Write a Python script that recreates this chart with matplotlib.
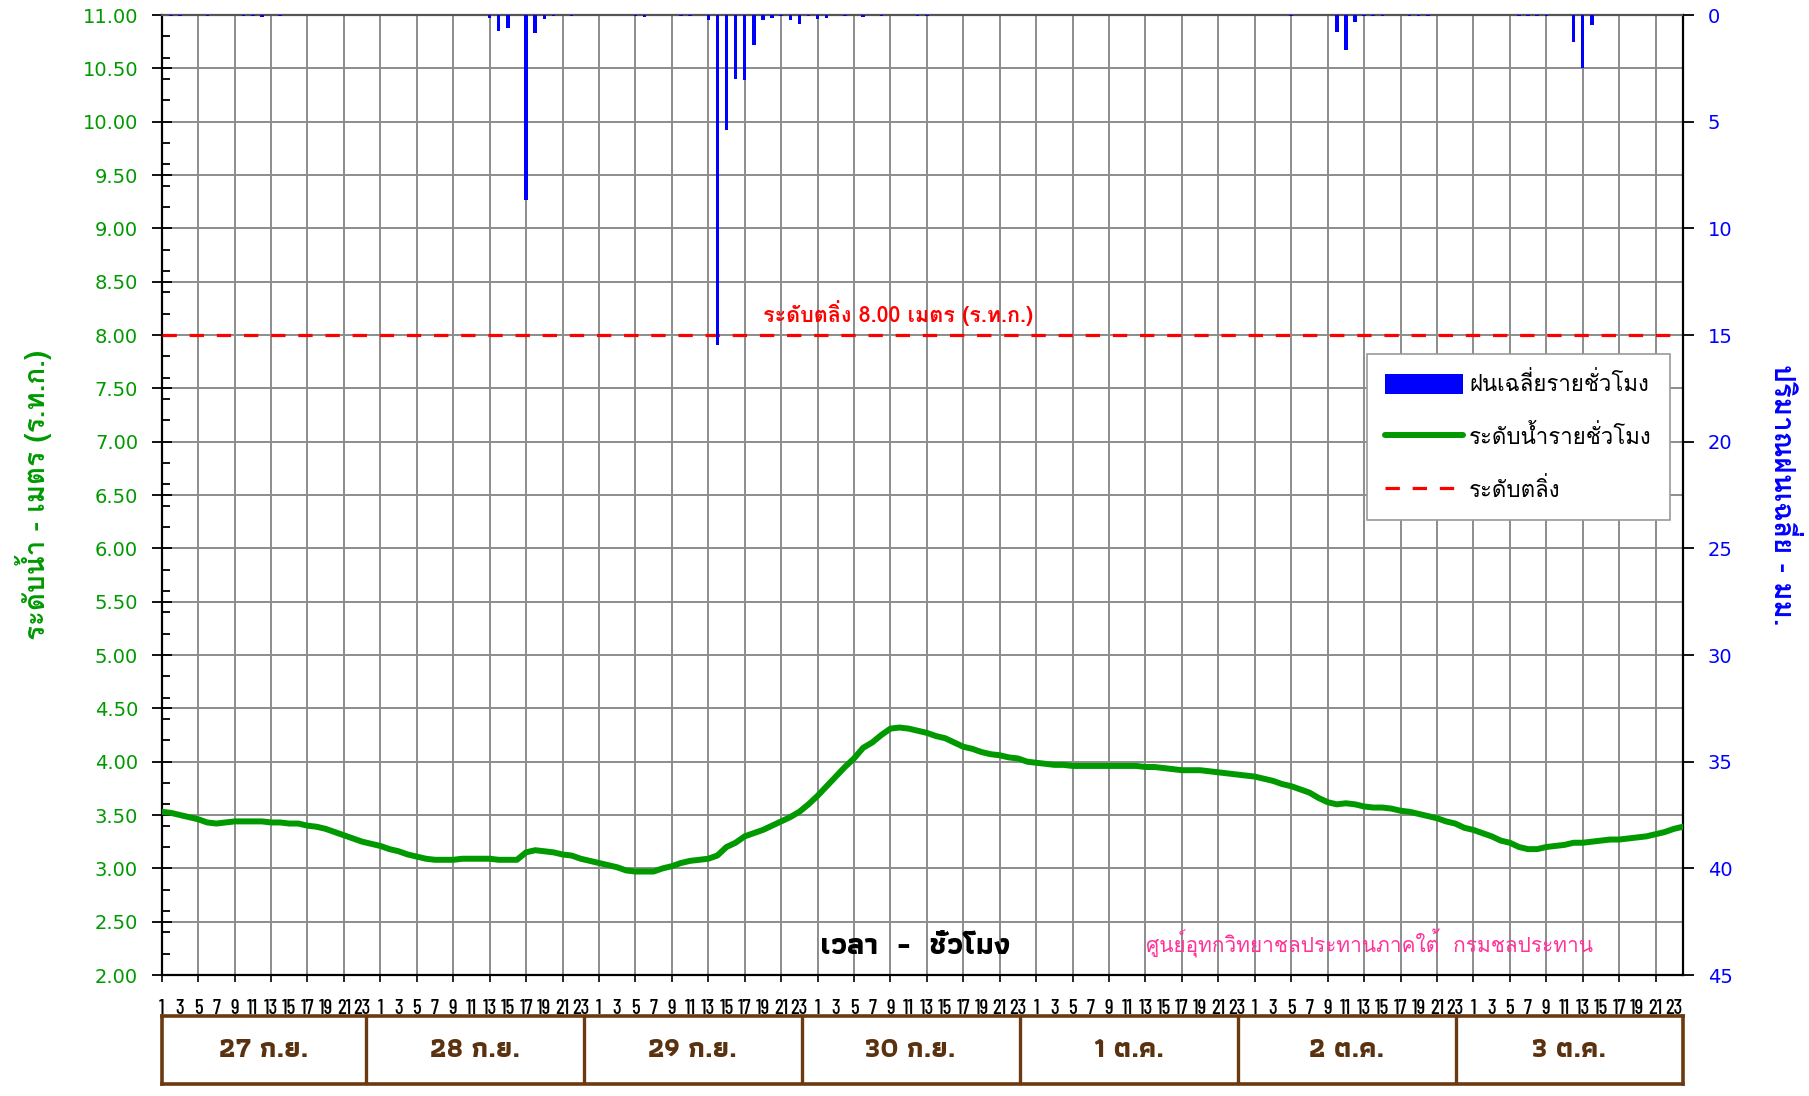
import numpy as np
import matplotlib
matplotlib.use('Agg')
import matplotlib.pyplot as plt
from matplotlib.patches import Patch
from matplotlib.lines import Line2D
from matplotlib.ticker import MultipleLocator, FormatStrFormatter

THAI = ['Loma', 'Noto Sans Thai', 'DejaVu Sans']
NARROW = ['Barlow Condensed', 'Archivo Narrow', 'DejaVu Sans']
NARROW_THAI = ['Athiti', 'Noto Sans Thai', 'DejaVu Sans']

days = ['27 ก.ย.', '28 ก.ย.', '29 ก.ย.', '30 ก.ย.', '1 ต.ค.', '2 ต.ค.', '3 ต.ค.']
bank_level = 8.00

# hourly water level (m), 27 Sep 01:00 -> 3 Oct 24:00
level = [
    3.53, 3.52, 3.50, 3.48, 3.46, 3.43, 3.42, 3.43, 3.44, 3.44, 3.44, 3.44,
    3.43, 3.43, 3.42, 3.42, 3.40, 3.39, 3.37, 3.34, 3.31, 3.28, 3.25, 3.23,
    3.21, 3.18, 3.16, 3.13, 3.11, 3.09, 3.08, 3.08, 3.08, 3.09, 3.09, 3.09,
    3.09, 3.08, 3.08, 3.08, 3.15, 3.17, 3.16, 3.15, 3.13, 3.12, 3.09, 3.07,
    3.05, 3.03, 3.01, 2.98, 2.97, 2.97, 2.97, 3.00, 3.02, 3.05, 3.07, 3.08,
    3.09, 3.12, 3.20, 3.24, 3.30, 3.33, 3.36, 3.40, 3.44, 3.48, 3.53, 3.60,
    3.68, 3.77, 3.86, 3.95, 4.03, 4.13, 4.18, 4.25, 4.31, 4.32, 4.31, 4.29,
    4.27, 4.24, 4.22, 4.18, 4.14, 4.12, 4.09, 4.07, 4.06, 4.04, 4.03, 4.00,
    3.99, 3.98, 3.97, 3.97, 3.96, 3.96, 3.96, 3.96, 3.96, 3.96, 3.96, 3.96,
    3.95, 3.95, 3.94, 3.93, 3.92, 3.92, 3.92, 3.91, 3.90, 3.89, 3.88, 3.87,
    3.86, 3.84, 3.82, 3.79, 3.77, 3.74, 3.71, 3.66, 3.62, 3.60, 3.61, 3.60,
    3.58, 3.57, 3.57, 3.56, 3.54, 3.53, 3.51, 3.49, 3.47, 3.44, 3.42, 3.38,
    3.36, 3.33, 3.30, 3.26, 3.24, 3.20, 3.18, 3.18, 3.20, 3.21, 3.22, 3.24,
    3.24, 3.25, 3.26, 3.27, 3.27, 3.28, 3.29, 3.30, 3.32, 3.34, 3.37, 3.39,
]

# hourly average rainfall (mm), non-zero hours only
rain_hour = [1, 2, 5, 9, 10, 11, 13, 36, 37, 38, 40, 41, 42, 43, 45,
             52, 53, 57, 58, 60, 61, 62, 63, 64, 65, 66, 67, 68, 69, 70,
             71, 72, 73, 75, 77, 79, 83, 84, 124, 129, 130, 131, 132, 133,
             134, 137, 138, 139, 149, 150, 151, 152, 155, 156, 157]
rain_mm = [0.05, 0.05, 0.03, 0.05, 0.05, 0.08, 0.05, 0.13, 0.75, 0.62, 8.68,
           0.84, 0.17, 0.06, 0.03,
           0.05, 0.08, 0.05, 0.05, 0.22, 15.47, 5.37, 3.0, 3.06, 1.40, 0.22,
           0.12, 0.05, 0.22, 0.40,
           0.05, 0.17, 0.12, 0.05, 0.10, 0.06, 0.05, 0.05, 0.05, 0.81, 1.62,
           0.31, 0.04, 0.04,
           0.04, 0.05, 0.05, 0.05, 0.04, 0.04, 0.05, 0.05, 1.28, 2.50, 0.48]

hours = np.arange(len(level))
hour_labels = [str(h % 24 + 1) for h in hours[::2]]

fig = plt.figure(figsize=(18.09, 10.96), dpi=100)
ax = fig.add_axes([0.0894, 0.1104, 0.8409, 0.8759])
ax2 = ax.twinx()

grid_kw = dict(color='#8c8c8c', linewidth=1.4)

# water level
ax.plot(hours, level, color='#009900', linewidth=4.3, solid_capstyle='round',
        zorder=4)
ax.axhline(bank_level, color='#ff0000', linewidth=2.3, dashes=(4.5, 4),
           zorder=3)
ax.text(80.8, bank_level + 0.08, 'ระดับตลิ่ง %.2f เมตร (ร.ท.ก.)' % bank_level,
        color='#ff0000', fontsize=15.5, fontweight='bold', family=THAI,
        ha='center', va='bottom', zorder=5)

ax.set_xlim(0, hours[-1])
ax.set_ylim(2, 11)
ax.yaxis.set_major_locator(MultipleLocator(0.5))
ax.yaxis.set_minor_locator(MultipleLocator(0.2))
ax.yaxis.set_major_formatter(FormatStrFormatter('%.2f'))
ax.tick_params(axis='y', which='major', direction='inout', length=14,
               width=1.3, labelsize=14, labelcolor='#009900', pad=10)
ax.tick_params(axis='y', which='minor', direction='in', length=6, width=1.3)
ax.grid(True, axis='y', which='major', **grid_kw)

# labels every 2 h, tick marks and grid every 4 h
ax.xaxis.remove_overlapping_locs = False
ax.set_xticks(hours[::2], hour_labels)
ax.set_xticks(hours[::4], minor=True)
ax.tick_params(axis='x', which='major', length=0, pad=17)
ax.tick_params(axis='x', which='minor', direction='out', length=5, width=1.2)
ax.grid(True, axis='x', which='minor', **grid_kw)
ax.set_axisbelow(True)

for side in ['left', 'bottom', 'right']:
    ax.spines[side].set_linewidth(1.6)
    ax.spines[side].set_color('black')
ax.spines['top'].set_color('#555555')
ax.spines['top'].set_linewidth(1.6)

ax.set_ylabel('ระดับน้ำ - เมตร (ร.ท.ก.)', family=THAI, fontsize=20,
              fontweight='bold', color='#009900', labelpad=22)

# rainfall, hanging from the top
ax2.bar(rain_hour, rain_mm, width=0.38, color='#0000ff', zorder=2)
ax2.set_ylim(45, 0)
ax2.yaxis.set_major_locator(MultipleLocator(5))
ax2.tick_params(axis='y', direction='out', length=8, width=1.3,
                labelsize=14, labelcolor='#0000ff', pad=10)
ax2.set_ylabel('ปริมาณฝนเฉลี่ย - มม.', family=THAI, fontsize=20,
               fontweight='bold', color='#0000ff', rotation=-90,
               labelpad=26, va='bottom')
for s in ax2.spines.values():
    s.set_visible(False)

ax.text(0.495, 0.03, 'เวลา  -  ชั่วโมง', transform=ax.transAxes, ha='center',
        va='center', family=NARROW_THAI, fontsize=22, fontweight='bold',
        color='black')
ax.text(0.794, 0.033, 'ศูนย์อุทกวิทยาชลประทานภาคใต้  กรมชลประทาน',
        transform=ax.transAxes, ha='center', va='center', family=THAI,
        fontsize=15, color='#ff3399')

handles = [Patch(facecolor='#0000ff', edgecolor='none'),
           Line2D([], [], color='#009900', linewidth=4.3,
                  solid_capstyle='round'),
           Line2D([], [], color='#ff0000', linewidth=2.3, dashes=(4.5, 4))]
labels = ['ฝนเฉลี่ยรายชั่วโมง', 'ระดับน้ำรายชั่วโมง', 'ระดับตลิ่ง']
leg = ax2.legend(handles, labels, loc='upper left',
                 bbox_to_anchor=(0.785, 0.658), prop={'family': THAI,
                                                     'size': 16},
                 frameon=True, fancybox=False, edgecolor='#9a9a9a',
                 framealpha=1, handlelength=3.5, handleheight=1.0,
                 labelspacing=1.3, borderpad=0.8, handletextpad=0.3)
leg.get_frame().set_linewidth(1.2)

# date boxes under the hour labels
axd = fig.add_axes([0.0894, 0.0110, 0.8409, 0.0620])
axd.set_xlim(0, hours[-1])
axd.set_ylim(0, 1)
axd.set_xticks([])
axd.set_yticks([])
for s in axd.spines.values():
    s.set_color('#6b3a10')
    s.set_linewidth(2.6)
edges = [0] + [24 * (i + 1) - 1.6 - 0.07 * i for i in range(len(days) - 1)]
edges = edges + [hours[-1]]
for i, d in enumerate(days):
    if i > 0:
        axd.axvline(edges[i], color='#6b3a10', linewidth=2.4)
    axd.text((edges[i] + edges[i + 1]) / 2, 0.5, d, ha='center', va='center',
             family=NARROW_THAI, fontsize=20, fontweight='bold',
             color='#5a3210')

fig.canvas.draw()
for lbl in ax.get_xticklabels():
    lbl.set_fontsize(15)
    lbl.set_fontfamily(NARROW)
    lbl.set_fontweight('medium')

fig.savefig('out.png')
